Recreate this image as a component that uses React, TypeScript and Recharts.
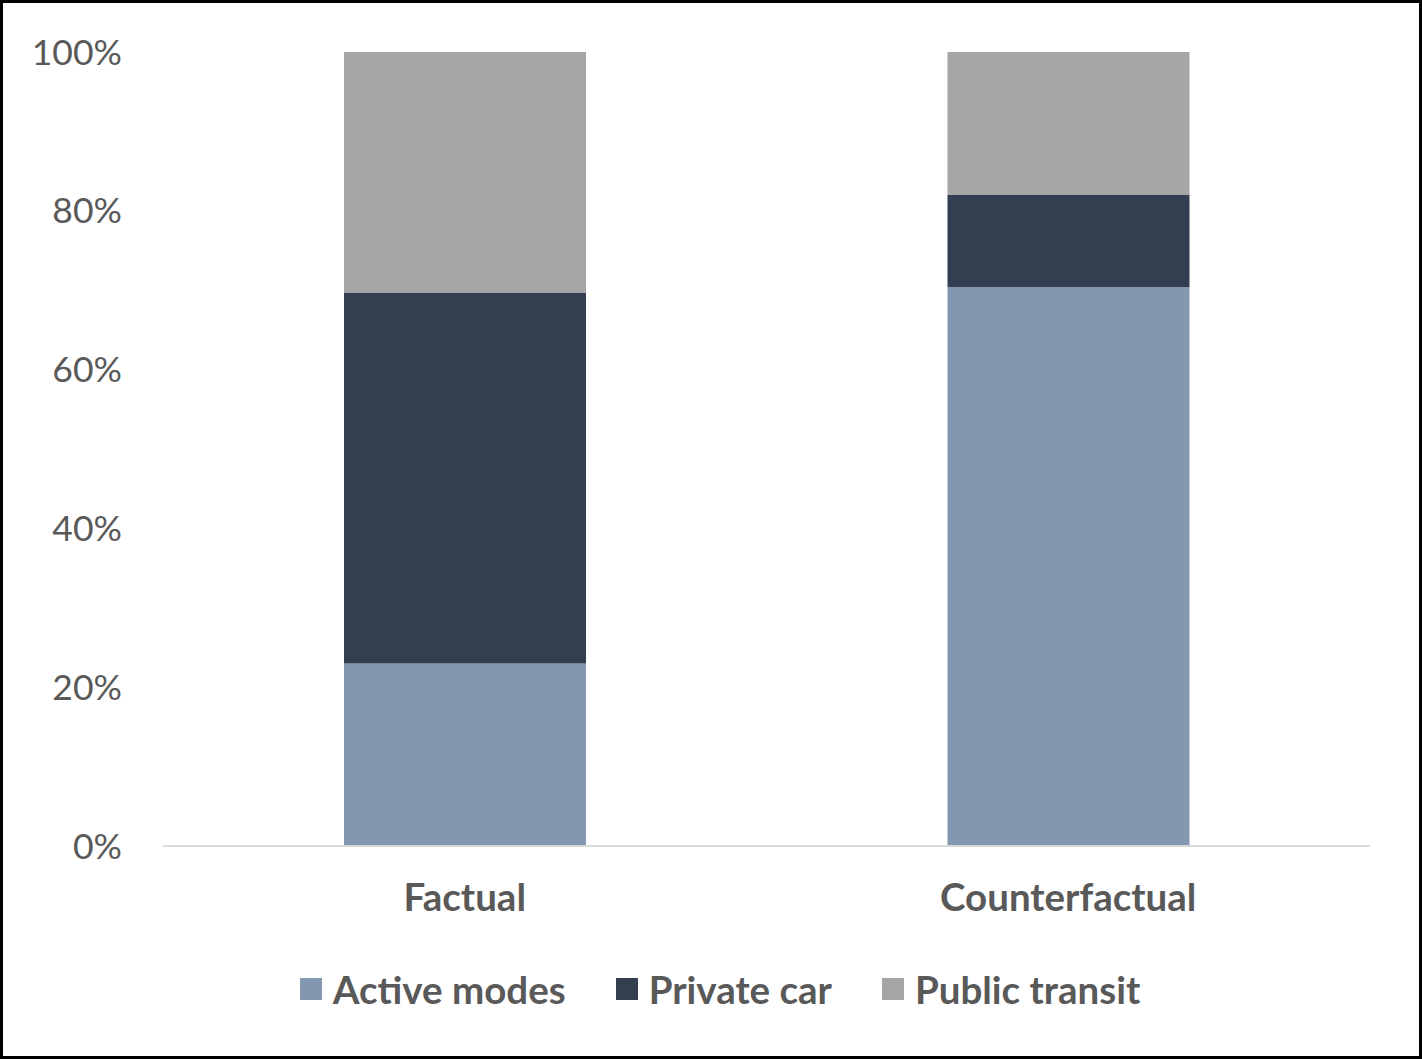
import { BarChart, Bar, XAxis, YAxis, Legend } from 'recharts'

const scenarios = ['Factual', 'Counterfactual']
const activeModes = [23.0, 70.4]
const privateCar = [46.7, 11.6]
const publicTransit = [30.3, 18.0]
const yTicks = [0, 20, 40, 60, 80, 100]

const SERIES = [
  { key: 'active', name: 'Active modes', color: '#8497b0' },
  { key: 'car', name: 'Private car', color: '#333f50' },
  { key: 'transit', name: 'Public transit', color: '#a6a6a6' },
]

const FONT = 'Lato, "Open Sans", sans-serif'

const data = scenarios.map((name, i) => ({
  name,
  active: activeModes[i],
  car: privateCar[i],
  transit: publicTransit[i],
}))

function LegendRow() {
  return (
    <div style={{ display: 'flex', justifyContent: 'center', alignItems: 'center', fontFamily: FONT }}>
      {SERIES.map((s) => (
        <div key={s.key} style={{ display: 'flex', alignItems: 'center', margin: '0 25px' }}>
          <span style={{ width: 22, height: 22, background: s.color, marginRight: 11, display: 'inline-block' }} />
          <span style={{ fontSize: 38.5, fontWeight: 700, color: '#595959', lineHeight: '40px' }}>{s.name}</span>
        </div>
      ))}
    </div>
  )
}

export default function App() {
  return (
    <div
      style={{
        position: 'absolute',
        left: 0,
        top: 0,
        width: 1422,
        height: 1059,
        boxSizing: 'border-box',
        border: '3px solid #000',
        background: '#fff',
      }}
    >
      <BarChart
        width={1416}
        height={1053}
        data={data}
        margin={{ top: 49, right: 49, bottom: 150, left: 0 }}
        barSize={242}
      >
        <XAxis
          dataKey="name"
          height={60}
          tickLine={false}
          tickSize={0}
          tickMargin={38}
          axisLine={{ stroke: '#d9d9d9', strokeWidth: 2 }}
          tick={{ fill: '#595959', fontSize: 38.5, fontWeight: 700, fontFamily: FONT }}
        />
        <YAxis
          width={160}
          domain={[0, 100]}
          ticks={yTicks}
          interval={0}
          tickFormatter={(v: number) => `${v}%`}
          axisLine={false}
          tickLine={false}
          tickSize={0}
          tickMargin={41}
          tick={{ fill: '#595959', fontSize: 35.5, fontFamily: FONT }}
        />
        {SERIES.map((s) => (
          <Bar key={s.key} dataKey={s.key} name={s.name} stackId="a" fill={s.color} isAnimationActive={false} />
        ))}
        <Legend
          verticalAlign="middle"
          wrapperStyle={{ top: 966, left: 9, width: 1416 }}
          content={() => <LegendRow />}
        />
      </BarChart>
    </div>
  )
}
